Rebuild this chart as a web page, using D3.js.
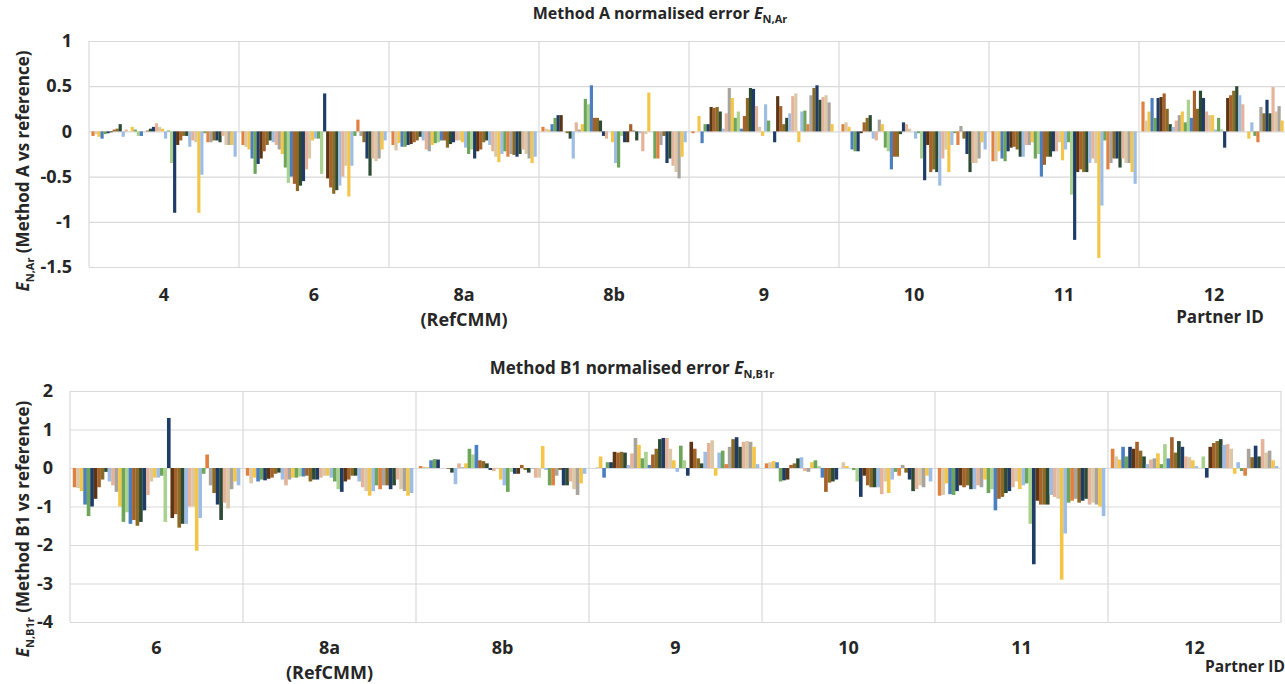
<!DOCTYPE html>
<html>
<head>
<meta charset="utf-8">
<script src="https://cdn.jsdelivr.net/npm/d3@7"></script>
<style>
  body { margin: 0; background: #fff; }
  text { font-family: 'Open Sans', Lato, sans-serif; font-weight: bold; fill: #262626; }
</style>
</head>
<body>
<svg id="chart" width="1285" height="684"></svg>
<script>
// partner IDs on each panel
var partnersA = ['4', '6', '8a', '8b', '9', '10', '11', '12'];
var partnersB = ['6', '8a', '8b', '9', '10', '11', '12'];
var partnerNotes = { '8a': '(RefCMM)' };

var ticksA = [1, 0.5, 0, -0.5, -1, -1.5];
var ticksB = [2, 1, 0, -1, -2, -3, -4];

// Method A normalised error, one value per measurand (48 measurands per partner)
var errA_4 = [-0.05, -0.03, -0.06, -0.08, -0.03, -0.02, -0.01, 0.02, 0.03, 0.08, -0.06, 0.02, 0.0, 0.05, 0.02, -0.05,
  -0.05, 0.0, 0.01, 0.03, 0.05, 0.09, 0.05, 0.03, -0.08, 0.01, -0.35, -0.9, -0.15, -0.1, -0.05, -0.05,
  -0.17, -0.1, -0.12, -0.9, -0.48, -0.02, -0.12, -0.12, -0.1, -0.1, -0.12, -0.05, -0.15, -0.15, -0.15, -0.28];
var errA_6 = [-0.15, -0.17, -0.2, -0.3, -0.47, -0.36, -0.3, -0.22, -0.15, -0.1, -0.12, -0.15, -0.2, -0.25, -0.4, -0.57,
  -0.5, -0.58, -0.66, -0.6, -0.55, -0.42, -0.3, -0.1, -0.08, -0.08, -0.47, 0.42, -0.52, -0.62, -0.69, -0.65,
  -0.6, -0.5, -0.38, -0.72, -0.38, -0.05, 0.13, -0.05, -0.12, -0.3, -0.49, -0.3, -0.33, -0.3, -0.2, -0.1];
var errA_8a = [-0.15, -0.21, -0.13, -0.17, -0.17, -0.15, -0.14, -0.12, -0.1, -0.06, -0.1, -0.2, -0.22, -0.15, -0.13, -0.12,
  -0.1, -0.1, -0.18, -0.14, -0.12, -0.1, -0.1, -0.12, -0.18, -0.25, -0.2, -0.3, -0.22, -0.2, -0.12, -0.1,
  -0.15, -0.22, -0.28, -0.34, -0.25, -0.22, -0.28, -0.25, -0.26, -0.28, -0.25, -0.2, -0.25, -0.3, -0.35, -0.28];
var errA_8b = [0.05, 0.03, 0.02, 0.08, 0.15, 0.18, 0.18, 0.0, -0.02, -0.08, -0.3, 0.1, 0.02, 0.08, 0.36, 0.3,
  0.51, 0.15, 0.15, 0.12, -0.05, -0.08, 0.0, -0.12, -0.35, -0.4, -0.05, -0.12, -0.12, 0.08, 0.01, -0.1,
  -0.02, -0.22, -0.03, 0.43, 0.0, -0.3, -0.3, -0.15, -0.05, -0.35, -0.3, -0.38, -0.45, -0.52, -0.28, -0.12];
var errA_9 = [-0.02, 0.0, 0.17, -0.13, 0.08, 0.08, 0.27, 0.26, 0.27, 0.22, 0.03, 0.2, 0.48, 0.37, 0.15, 0.22,
  0.03, 0.17, 0.37, 0.48, 0.47, 0.28, 0.05, -0.05, 0.3, 0.12, 0.0, -0.12, 0.39, 0.28, 0.08, 0.15,
  0.2, 0.39, 0.42, -0.12, 0.22, 0.23, 0.08, 0.4, 0.48, 0.51, 0.35, 0.38, 0.4, 0.32, 0.08, 0.0];
var errA_10 = [0.08, 0.1, 0.05, -0.2, -0.22, -0.22, -0.02, 0.1, 0.15, 0.18, -0.08, -0.1, 0.13, 0.08, -0.18, -0.22,
  -0.42, -0.28, -0.28, -0.03, 0.1, 0.08, 0.03, 0.0, -0.08, -0.02, -0.3, -0.54, -0.15, -0.45, -0.42, -0.45,
  -0.6, -0.3, -0.2, -0.45, -0.15, -0.02, -0.15, 0.06, -0.08, -0.25, -0.45, -0.35, -0.35, -0.3, -0.12, -0.2];
var errA_11 = [-0.33, -0.33, -0.22, -0.3, -0.33, -0.22, -0.18, -0.17, -0.2, -0.28, -0.28, -0.15, -0.15, -0.12, -0.3, -0.25,
  -0.5, -0.37, -0.28, -0.28, -0.22, -0.22, -0.12, -0.32, -0.2, -0.12, -0.7, -1.2, -0.45, -0.42, -0.45, -0.45,
  -0.35, -0.3, -0.35, -1.4, -0.82, -0.1, -0.42, -0.35, -0.3, -0.3, -0.4, -0.3, -0.35, -0.35, -0.45, -0.58];
var errA_12 = [0.33, 0.12, 0.22, 0.37, 0.15, 0.37, 0.38, 0.42, 0.25, 0.08, 0.05, 0.12, 0.18, 0.22, 0.1, 0.35,
  0.15, 0.45, 0.25, 0.45, 0.37, 0.22, 0.18, 0.18, 0.02, 0.15, 0.02, -0.18, 0.37, 0.4, 0.45, 0.5,
  0.4, 0.3, 0.0, -0.08, 0.1, -0.05, -0.12, 0.27, 0.2, 0.35, 0.2, 0.49, 0.22, 0.28, 0.12, 0.0];

// Method B1 normalised error
var errB_6 = [-0.5, -0.52, -0.6, -0.95, -1.25, -1.0, -0.8, -0.5, -0.3, -0.1, -0.35, -0.45, -0.62, -1.0, -1.4, -1.15,
  -1.45, -1.35, -1.5, -1.4, -1.1, -0.7, -0.35, -0.25, -0.25, -0.2, -1.4, 1.3, -1.3, -1.2, -1.55, -1.45,
  -1.45, -1.0, -1.0, -2.15, -1.3, -0.15, 0.35, -0.45, -0.65, -0.95, -1.35, -0.9, -1.05, -0.55, -0.35, -0.45];
var errB_8a = [-0.2, -0.4, -0.25, -0.35, -0.3, -0.32, -0.28, -0.25, -0.15, -0.12, -0.3, -0.45, -0.3, -0.25, -0.25, -0.22,
  -0.22, -0.2, -0.35, -0.3, -0.3, -0.25, -0.2, -0.2, -0.25, -0.35, -0.55, -0.62, -0.35, -0.3, -0.2, -0.2,
  -0.35, -0.5, -0.6, -0.72, -0.6, -0.45, -0.55, -0.45, -0.45, -0.55, -0.45, -0.3, -0.55, -0.6, -0.72, -0.65];
var errB_8b = [0.05, 0.03, 0.02, 0.2, 0.23, 0.22, 0.0, 0.0, -0.02, -0.12, -0.42, 0.12, 0.02, 0.12, 0.5, 0.35,
  0.6, 0.2, 0.18, 0.12, -0.05, -0.08, -0.02, -0.3, -0.45, -0.62, -0.1, -0.15, -0.15, 0.08, -0.05, -0.12,
  -0.02, -0.25, -0.25, 0.57, -0.05, -0.45, -0.45, -0.2, -0.05, -0.45, -0.45, -0.35, -0.55, -0.7, -0.4, -0.15];
var errB_9 = [0.0, 0.02, 0.3, -0.25, 0.15, 0.15, 0.42, 0.4, 0.42, 0.4, 0.08, 0.38, 0.78, 0.6, 0.25, 0.42,
  0.08, 0.35, 0.5, 0.75, 0.78, 0.78, 0.5, 0.2, -0.1, 0.58, 0.2, -0.2, 0.68, 0.5, 0.25, 0.12,
  0.42, 0.65, 0.72, -0.2, 0.4, 0.45, 0.1, 0.55, 0.75, 0.8, 0.55, 0.68, 0.7, 0.68, 0.55, 0.1];
var errB_10 = [0.12, 0.15, 0.18, 0.15, -0.35, -0.32, -0.3, 0.08, 0.12, 0.25, 0.28, -0.08, -0.1, 0.15, 0.2, 0.05,
  -0.25, -0.62, -0.38, -0.35, -0.3, 0.0, 0.15, 0.05, 0.0, -0.05, -0.35, -0.75, -0.2, -0.45, -0.5, -0.5,
  -0.5, -0.68, -0.35, -0.65, -0.3, -0.1, -0.2, 0.08, -0.12, -0.3, -0.6, -0.55, -0.45, -0.5, -0.2, -0.35];
var errB_11 = [-0.72, -0.7, -0.4, -0.68, -0.7, -0.6, -0.45, -0.5, -0.45, -0.55, -0.55, -0.45, -0.5, -0.3, -0.65, -0.55,
  -1.1, -0.8, -0.75, -0.65, -0.6, -0.5, -0.35, -0.55, -0.45, -0.4, -1.45, -2.5, -0.85, -0.95, -0.95, -0.95,
  -0.7, -0.75, -0.8, -2.9, -1.7, -0.9, -0.85, -0.8, -0.9, -0.85, -0.8, -0.95, -0.9, -0.95, -1.0, -1.25];
var errB_12 = [0.5, 0.3, 0.22, 0.55, 0.3, 0.55, 0.5, 0.68, 0.45, 0.3, 0.1, 0.22, 0.25, 0.38, 0.1, 0.62,
  0.25, 0.8, 0.4, 0.7, 0.55, 0.3, 0.28, 0.2, 0.05, 0.0, 0.3, -0.25, 0.55, 0.65, 0.7, 0.75,
  0.6, 0.62, 0.5, -0.15, 0.15, -0.08, -0.2, 0.5, 0.28, 0.58, 0.3, 0.75, 0.4, 0.45, 0.2, 0.05];

var valuesA = [errA_4, errA_6, errA_8a, errA_8b, errA_9, errA_10, errA_11, errA_12];
var valuesB = [errB_6, errB_8a, errB_8b, errB_9, errB_10, errB_11, errB_12];

// measurand colours
var palette = {
  orange: '#E2803F', tan: '#DCC7A6', yellow: '#F3C64A', blue: '#4B7FBF', green: '#6DA55A',
  navy: '#1E3C66', darkBrown: '#5A3516', brown: '#A5612A', olive: '#8B6A25', darkGreen: '#2C4A34',
  lightBlue: '#9DBDE4', pink: '#E4B39A', gray: '#A8A39D', lightGreen: '#A9D18F'
};
var seriesColors = ['orange', 'tan', 'yellow', 'blue', 'green', 'navy', 'darkBrown', 'brown', 'olive', 'darkGreen', 'lightBlue', 'pink',
  'gray', 'yellow', 'green', 'lightGreen', 'blue', 'brown', 'olive', 'darkGreen', 'navy', 'pink', 'tan', 'yellow',
  'lightBlue', 'green', 'lightGreen', 'navy', 'darkBrown', 'brown', 'olive', 'darkGreen', 'lightBlue', 'pink', 'tan', 'yellow',
  'lightBlue', 'green', 'orange', 'gray', 'olive', 'navy', 'darkGreen', 'pink', 'tan', 'gray', 'yellow', 'lightBlue'
].map(function (c) { return palette[c]; });

var svg = d3.select('#chart');

function drawPanel(cfg) {
	var g = svg.append('g');

	var x0 = d3.scaleBand()
		.domain(cfg.partners)
		.range([cfg.left, cfg.right]);
	var x1 = d3.scaleBand()
		.domain(d3.range(cfg.values[0].length))
		.range([0, x0.bandwidth()])
		.paddingOuter(0.8);
	var y = d3.scaleLinear()
		.domain([d3.min(cfg.ticks), d3.max(cfg.ticks)])
		.range([cfg.bottom, cfg.top]);

	// horizontal gridlines + tick labels
	var yAxis = g.append('g')
		.attr('transform', `translate(${cfg.left}, 0)`)
		.call(d3.axisLeft(y)
			.tickValues(cfg.ticks)
			.tickSize(-(cfg.right - cfg.left))
			.tickPadding(17)
			.tickFormat(d => String(d)));
	yAxis.select('.domain').remove();
	yAxis.selectAll('line').attr('stroke', '#D9D9D9').attr('stroke-width', 1.2);
	yAxis.selectAll('text').attr('font-size', '18px').attr('fill', '#262626');

	// vertical separators between partners
	var edges = cfg.partners.map(p => x0(p)).concat([cfg.right]);
	g.selectAll('.vline')
		.data(edges)
		.enter().append('line')
		.attr('x1', d => d).attr('x2', d => d)
		.attr('y1', cfg.top).attr('y2', cfg.bottom)
		.attr('stroke', '#D9D9D9')
		.attr('stroke-width', 1.2);

	// bars
	cfg.partners.forEach((p, pi) => {
		g.append('g')
			.attr('transform', `translate(${x0(p)}, 0)`)
			.selectAll('rect')
			.data(cfg.values[pi])
			.enter().append('rect')
			.attr('x', (d, i) => x1(i))
			.attr('width', x1.bandwidth() + 0.15)
			.attr('y', d => y(Math.max(0, d)))
			.attr('height', d => Math.abs(y(d) - y(0)))
			.attr('fill', (d, i) => seriesColors[i]);
	});

	// partner labels
	var xAxis = g.append('g')
		.attr('transform', `translate(0, ${cfg.bottom})`)
		.call(d3.axisBottom(x0).tickSize(0).tickPadding(cfg.labelPad));
	xAxis.select('.domain').remove();
	xAxis.selectAll('text')
		.attr('font-size', '18px')
		.attr('fill', '#262626')
		.each(function (d) {
			if (partnerNotes[d]) {
				d3.select(this).append('tspan')
					.attr('x', 0)
					.attr('dy', '1.4em')
					.text(partnerNotes[d]);
			}
		});

	g.append('text')
		.attr('x', cfg.partnerIdX)
		.attr('y', cfg.partnerIdY)
		.attr('text-anchor', 'middle')
		.attr('font-size', cfg.partnerIdSize)
		.text('Partner ID');

	// title
	var title = g.append('text')
		.attr('x', cfg.titleX)
		.attr('y', cfg.titleY)
		.attr('text-anchor', 'middle')
		.attr('font-size', cfg.titleSize);
	title.append('tspan').text(cfg.title + ' ');
	title.append('tspan').attr('font-style', 'italic').text('E');
	title.append('tspan').attr('font-size', '11px').attr('dy', 4).text(cfg.sub);

	// y axis title
	var yTitle = g.append('text')
		.attr('transform', `translate(${cfg.yTitleX}, ${cfg.yTitleY}) rotate(-90)`)
		.attr('text-anchor', 'middle')
		.attr('font-size', '17px');
	yTitle.append('tspan').attr('font-style', 'italic').text('E');
	yTitle.append('tspan').attr('font-size', '11px').attr('dy', 5).text(cfg.sub);
	yTitle.append('tspan').attr('dy', -5).text(' ' + cfg.yTitle);
}

drawPanel({
	partners: partnersA, values: valuesA, ticks: ticksA,
	left: 89, right: 1289, top: 41, bottom: 267, labelPad: 21,
	partnerIdX: 1220, partnerIdY: 323, partnerIdSize: '17px',
	title: 'Method A normalised error', sub: 'N,Ar', titleX: 660, titleY: 19, titleSize: '16px',
	yTitle: '(Method A vs reference)', yTitleX: 29, yTitleY: 171
});

drawPanel({
	partners: partnersB, values: valuesB, ticks: ticksB,
	left: 70, right: 1281, top: 391, bottom: 622, labelPad: 19,
	partnerIdX: 1245, partnerIdY: 672, partnerIdSize: '15.5px',
	title: 'Method B1 normalised error', sub: 'N,B1r', titleX: 632, titleY: 374, titleSize: '17px',
	yTitle: '(Method B1 vs reference)', yTitleX: 29, yTitleY: 529
});
</script>
</body>
</html>
